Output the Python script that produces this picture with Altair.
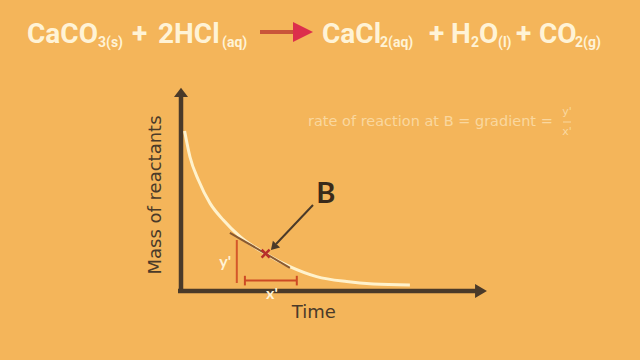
import altair as alt
import pandas as pd

# ---- data -------------------------------------------------------------
# decay of reactant mass over time (arbitrary units)
curve_time = [0.12, 0.3, 0.58, 0.97, 1.41, 1.97, 2.8, 3.63, 4.52, 5.52, 6.41, 7.63]
curve_mass = [8.0, 6.7, 5.55, 4.38, 3.55, 2.72, 1.88, 1.22, 0.72, 0.47, 0.35, 0.3]

# point B and the tangent drawn through it
point_b = {"t": 2.82, "m": 1.87}
tangent_t = [1.63, 3.63]
tangent_m = [2.91, 1.16]

# the y' (rise) and x' (run) construction lines
rise_t = [1.86, 1.86]
rise_m = [0.4, 2.55]
run_t = [2.13, 3.86]
run_m = [0.52, 0.52]

# reaction equation pieces: (text, is_subscript)
equation = [
    ("CaCO", False), ("3(s)", True), ("+", False), ("2HCl", False), ("(aq)", True),
    ("CaCl", False), ("2(aq)", True), ("+", False), ("H", False), ("2", True),
    ("O", False), ("(l)", True), ("+", False), ("CO", False), ("2(g)", True),
]

# ---- styling ----------------------------------------------------------
BG = "#F4B55A"
AXIS = "#4A3A29"
CREAM = "#FFF3D6"
RED = "#D4572A"
HEAD_FONT = "Roboto"
BODY_FONT = "DejaVu Sans"

xs = alt.Scale(domain=[0, 10], range=[181, 481])
ys = alt.Scale(domain=[0, 10], range=[291, 91])


def enc_x(f):
    return alt.X(f, type="quantitative", scale=xs, axis=None)


def enc_y(f):
    return alt.Y(f, type="quantitative", scale=ys, axis=None)


one = pd.DataFrame({"k": [0]})
layers = []

# axes with arrowheads
axes_df = pd.DataFrame({"t": [0, -0.1], "m": [-0.1, 0], "t2": [0, 9.9], "m2": [9.8, 0]})
layers.append(
    alt.Chart(axes_df).mark_rule(color=AXIS, strokeWidth=4.5).encode(
        x=enc_x("t"), y=enc_y("m"), x2="t2", y2="m2"
    )
)
layers.append(
    alt.Chart(pd.DataFrame({"t": [0], "m": [9.93]})).mark_point(
        shape="M-1,0.65L0,-0.65L1,0.65Z", size=196, filled=True, color=AXIS, opacity=1
    ).encode(x=enc_x("t"), y=enc_y("m"))
)
layers.append(
    alt.Chart(pd.DataFrame({"t": [10.0], "m": [0]})).mark_point(
        shape="M-0.85,-1L0.85,0L-0.85,1Z", size=196, filled=True, color=AXIS, opacity=1
    ).encode(x=enc_x("t"), y=enc_y("m"))
)

# the decay curve
layers.append(
    alt.Chart(pd.DataFrame({"t": curve_time, "m": curve_mass})).mark_line(
        color="#FFF2CC", strokeWidth=3, interpolate="monotone"
    ).encode(x=enc_x("t"), y=enc_y("m"))
)

# tangent at B
layers.append(
    alt.Chart(pd.DataFrame({"t": tangent_t, "m": tangent_m})).mark_line(
        color="#8A5A30", strokeWidth=2
    ).encode(x=enc_x("t"), y=enc_y("m"))
)

# rise and run lines
layers.append(
    alt.Chart(pd.DataFrame({"t": rise_t, "m": rise_m})).mark_line(
        color=RED, strokeWidth=2
    ).encode(x=enc_x("t"), y=enc_y("m"))
)
layers.append(
    alt.Chart(pd.DataFrame({"t": run_t, "m": run_m})).mark_line(
        color="#CC4A24", strokeWidth=2
    ).encode(x=enc_x("t"), y=enc_y("m"))
)
caps_df = pd.DataFrame({"t": run_t, "m": [0.28, 0.28], "m2": [0.76, 0.76]})
layers.append(
    alt.Chart(caps_df).mark_rule(color="#CC4A24", strokeWidth=2).encode(
        x=enc_x("t"), y=enc_y("m"), y2="m2"
    )
)

# point B marker
layers.append(
    alt.Chart(pd.DataFrame([point_b])).mark_point(
        shape="M-1,-1L1,1M-1,1L1,-1", size=64, strokeWidth=2.5, color="#B82E2A", opacity=1
    ).encode(x=enc_x("t"), y=enc_y("m"))
)

# pointer to B
layers.append(
    alt.Chart(pd.DataFrame({"t": [4.4, 3.17], "m": [4.3, 2.35]})).mark_line(
        color=AXIS, strokeWidth=2
    ).encode(x=enc_x("t"), y=enc_y("m"))
)
layers.append(
    alt.Chart(pd.DataFrame({"t": [3.09], "m": [2.2]})).mark_point(
        shape="M-1,0.8L0,-0.8L1,0.8Z", size=100, filled=True, color=AXIS, opacity=1, angle=224
    ).encode(x=enc_x("t"), y=enc_y("m"))
)

# labels in data space
labels = pd.DataFrame(
    {
        "t": [4.83, 1.47, 3.03],
        "m": [4.4, 1.45, -0.15],
        "txt": ["B", "y'", "x'"],
    }
)
layers.append(
    alt.Chart(labels.iloc[[0]]).mark_text(
        font="Lato", fontWeight="bold", fontSize=29, color="#3A2A1A", baseline="alphabetic"
    ).encode(x=enc_x("t"), y=enc_y("m"), text="txt")
)
layers.append(
    alt.Chart(labels.iloc[1:]).mark_text(
        font="Lato", fontWeight="bold", fontSize=16, color=CREAM, baseline="middle"
    ).encode(x=enc_x("t"), y=enc_y("m"), text="txt")
)

# axis titles
layers.append(
    alt.Chart(pd.DataFrame({"t": [4.43], "m": [-1.1], "txt": ["Time"]})).mark_text(
        font=BODY_FONT, fontSize=18, color=AXIS, baseline="middle"
    ).encode(x=enc_x("t"), y=enc_y("m"), text="txt")
)
layers.append(
    alt.Chart(pd.DataFrame({"t": [-0.83], "m": [4.8], "txt": ["Mass of reactants"]})).mark_text(
        font=BODY_FONT, fontSize=18, color=AXIS, baseline="middle", angle=270
    ).encode(x=enc_x("t"), y=enc_y("m"), text="txt")
)

# gradient note
NOTE = "#FCE3B6"
layers.append(
    alt.Chart(one).mark_text(
        text="rate of reaction at B = gradient =", font=BODY_FONT, fontSize=14.5,
        color=NOTE, align="left", baseline="middle", opacity=0.75
    ).encode(x=alt.value(308), y=alt.value(122))
)
for txt, ypos in (("y'", 112), ("x'", 132)):
    layers.append(
        alt.Chart(one).mark_text(
            text=txt, font=BODY_FONT, fontSize=11, color=NOTE, baseline="middle", opacity=0.75
        ).encode(x=alt.value(567), y=alt.value(ypos))
    )
layers.append(
    alt.Chart(one).mark_rule(color=NOTE, strokeWidth=1, opacity=0.75).encode(
        x=alt.value(563), x2=alt.value(571), y=alt.value(122)
    )
)

# reaction equation across the top
eq_x = [27, 98, 132, 158, 222, 322, 380, 429, 451, 471, 479, 498, 516, 539, 575]
for (txt, sub), xpos in zip(equation, eq_x):
    layers.append(
        alt.Chart(one).mark_text(
            text=txt, font=HEAD_FONT, fontWeight="bold",
            fontSize=14 if sub else 28, color=CREAM, align="left", baseline="alphabetic"
        ).encode(x=alt.value(xpos), y=alt.value(47 if sub else 43))
    )
layers.append(
    alt.Chart(one).mark_rule(color="#C9553A", strokeWidth=4).encode(
        x=alt.value(260), x2=alt.value(296), y=alt.value(32)
    )
)
layers.append(
    alt.Chart(one).mark_point(
        shape="M-1,-1L1,0L-1,1Z", size=400, filled=True, color="#DC2F4C", opacity=1
    ).encode(x=alt.value(303), y=alt.value(32))
)

chart = alt.layer(*layers).properties(
    width=640,
    height=360,
    background=BG,
    padding=0,
    autosize=alt.AutoSizeParams(type="none"),
).configure_view(stroke=None)

chart.save("out.html", embed_options={"renderer": "svg", "actions": False})
